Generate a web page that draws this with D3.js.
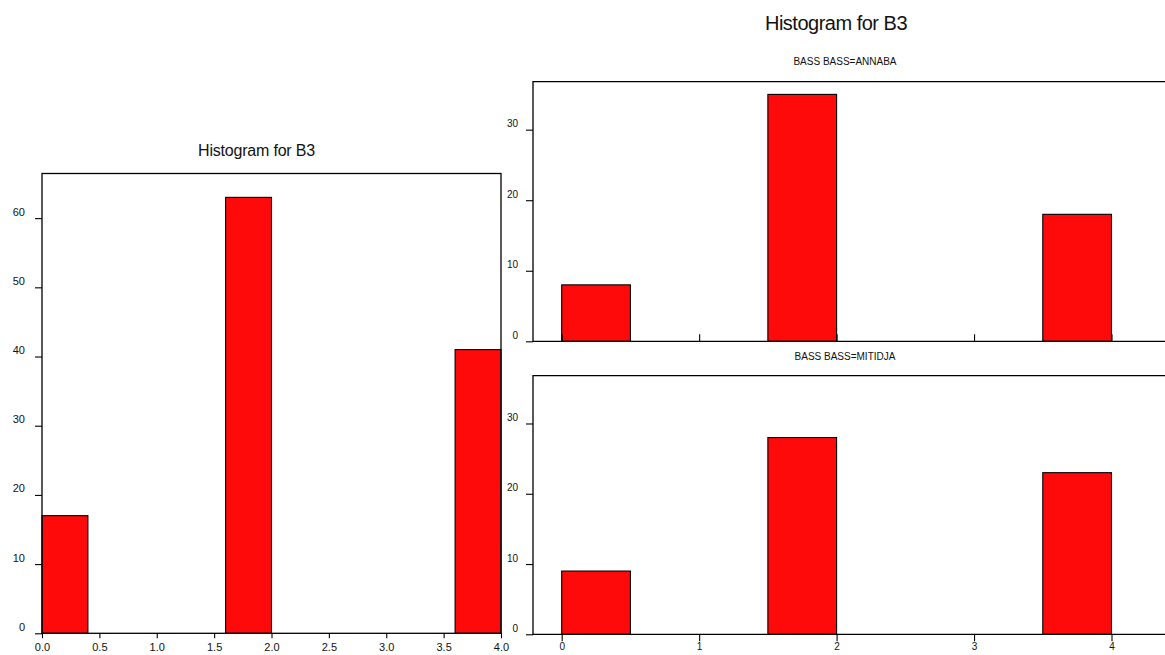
<!DOCTYPE html>
<html>
<head>
<meta charset="utf-8">
<script src="https://cdn.jsdelivr.net/npm/d3@7"></script>
<style>
  html, body { margin: 0; padding: 0; background: #fff; }
  svg { display: block; font-family: "Liberation Sans", Arial, sans-serif; }
</style>
</head>
<body>
<svg id="chart" width="1165" height="655"></svg>
<script>
// ---- Data ----
const mainTitle = "Histogram for B3";
const leftTitle = "Histogram for B3";
const panelTitles = ["BASS BASS=ANNABA", "BASS BASS=MITIDJA"];

const leftBinStarts = [0, 1.6, 3.6];
const leftBinWidth = 0.4;
const leftCounts = [17, 63, 41];

const rightBinStarts = [0, 1.5, 3.5];
const rightBinWidth = 0.5;
const annabaCounts = [8, 35, 18];
const mitidjaCounts = [9, 28, 23];

const leftXTicks = [0, 0.5, 1.0, 1.5, 2.0, 2.5, 3.0, 3.5, 4.0];
const leftYTicks = [0, 10, 20, 30, 40, 50, 60];
const rightXTicks = [0, 1, 2, 3, 4];
const rightYTicks = [0, 10, 20, 30];

// ---- Drawing ----
const svg = d3.select("#chart");
const BAR = "#ff0a0a";
const INK = "#111";

// Main title
svg.append("text")
  .attr("x", 836).attr("y", 30)
  .attr("text-anchor", "middle")
  .attr("font-size", 20).attr("letter-spacing", "-0.5px")
  .attr("fill", INK)
  .text(mainTitle);

// ---------- Left panel ----------
const L = { left: 42, right: 501, top: 173.5, bottom: 633.3 };
const xL = d3.scaleLinear().domain([0, 4]).range([L.left, L.right]);
const yL = d3.scaleLinear().domain([0, 66.45]).range([L.bottom, L.top]);

svg.append("text")
  .attr("x", 256.5).attr("y", 156)
  .attr("text-anchor", "middle")
  .attr("font-size", 16).attr("letter-spacing", "-0.2px")
  .attr("fill", INK)
  .text(leftTitle);

const gL = svg.append("g");
gL.selectAll("rect.bar")
  .data(leftCounts)
  .join("rect")
  .attr("class", "bar")
  .attr("x", (d, i) => xL(leftBinStarts[i]))
  .attr("width", (d, i) => xL(leftBinStarts[i] + leftBinWidth) - xL(leftBinStarts[i]))
  .attr("y", d => yL(d))
  .attr("height", d => yL(0) - yL(d))
  .attr("fill", BAR)
  .attr("stroke", "#000").attr("stroke-width", 1.1);

// frame
gL.append("rect")
  .attr("x", L.left).attr("y", L.top)
  .attr("width", L.right - L.left).attr("height", L.bottom - L.top)
  .attr("fill", "none").attr("stroke", "#000").attr("stroke-width", 1.3);

function styleAxis(g, fontSize) {
  g.select(".domain").remove();
  g.selectAll(".tick line").attr("stroke", "#000").attr("stroke-width", 1.1);
  g.selectAll(".tick text").attr("fill", INK).attr("font-size", fontSize)
    .attr("font-family", "'Liberation Sans', Arial, sans-serif");
}

const axYL = gL.append("g")
  .attr("transform", `translate(${L.left},0)`)
  .call(d3.axisLeft(yL).tickValues(leftYTicks).tickSize(7).tickPadding(10).tickSizeOuter(0));
styleAxis(axYL, 11);
axYL.selectAll(".tick text").attr("dy", "-0.27em");

const axXL = gL.append("g")
  .attr("transform", `translate(0,${L.bottom})`)
  .call(d3.axisBottom(xL).tickValues(leftXTicks).tickFormat(d3.format(".1f")).tickSize(5).tickPadding(5).tickSizeOuter(0));
styleAxis(axXL, 11);

// ---------- Right panels ----------
const xR = d3.scaleLinear().domain([0, 4]).range([561.7, 1111.5]);
const R_LEFT = 533, R_RIGHT = 1180;

const panels = [
  { title: panelTitles[0], titleY: 65, top: 81.7, bottom: 341.3, counts: annabaCounts, labels: false },
  { title: panelTitles[1], titleY: 360, top: 375.7, bottom: 634.3, counts: mitidjaCounts, labels: true }
];

panels.forEach(p => {
  const g = svg.append("g");
  const y = d3.scaleLinear().domain([0, 36.8]).range([p.bottom, p.top]);

  g.append("text")
    .attr("x", 845).attr("y", p.titleY)
    .attr("text-anchor", "middle")
    .attr("font-size", 10)
    .attr("fill", INK)
    .text(p.title);

  g.selectAll("rect.bar")
    .data(p.counts)
    .join("rect")
    .attr("class", "bar")
    .attr("x", (d, i) => xR(rightBinStarts[i]))
    .attr("width", (d, i) => xR(rightBinStarts[i] + rightBinWidth) - xR(rightBinStarts[i]))
    .attr("y", d => y(d))
    .attr("height", d => y(0) - y(d))
    .attr("fill", BAR)
    .attr("stroke", "#000").attr("stroke-width", 1.1);

  // frame: left, top, bottom (extends past right edge)
  g.append("path")
    .attr("d", `M${R_RIGHT},${p.top}H${R_LEFT}V${p.bottom}H${R_RIGHT}`)
    .attr("fill", "none").attr("stroke", "#000").attr("stroke-width", 1.3);

  const ay = g.append("g")
    .attr("transform", `translate(${R_LEFT},0)`)
    .call(d3.axisLeft(y).tickValues(rightYTicks).tickSize(7).tickPadding(8).tickSizeOuter(0));
  styleAxis(ay, 10);
  ay.selectAll(".tick text").attr("dy", "-0.3em");

  if (p.labels) {
    const ax = g.append("g")
      .attr("transform", `translate(0,${p.bottom})`)
      .call(d3.axisBottom(xR).tickValues(rightXTicks).tickFormat(d3.format("d")).tickSize(7).tickPadding(2).tickSizeOuter(0));
    styleAxis(ax, 10);
  } else {
    const ax = g.append("g")
      .attr("transform", `translate(0,${p.bottom})`)
      .call(d3.axisTop(xR).tickValues(rightXTicks).tickFormat("").tickSize(7).tickSizeOuter(0));
    styleAxis(ax, 10);
  }
});
</script>
</body>
</html>
